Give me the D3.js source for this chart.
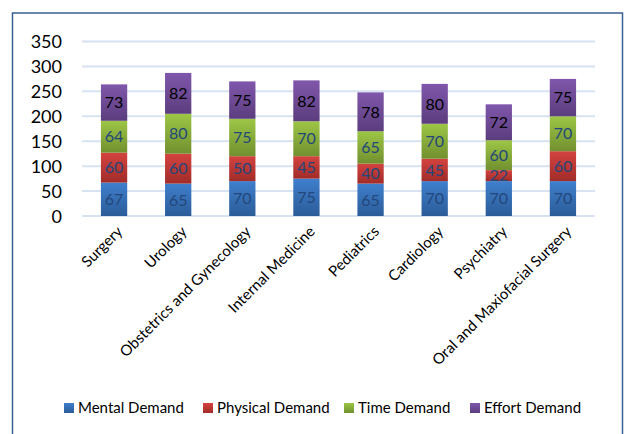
<html>
<head>
<meta charset="utf-8">
<title>demand chart</title>
<script src="https://cdn.jsdelivr.net/npm/d3@7"></script>
<style>
body { margin: 0; background: white; }
text { font-family: Lato, "Open Sans", sans-serif; }
</style>
</head>
<body>
<svg id="chart"></svg>
<script>
var categories = ["Surgery", "Urology", "Obstetrics and Gynecology", "Internal Medicine",
  "Pediatrics", "Cardiology", "Psychiatry", "Oral and Maxiofacial Surgery"];
var series_names = ["Mental Demand", "Physical Demand", "Time Demand", "Effort Demand"];
var mental = [67, 65, 70, 75, 65, 70, 70, 70];
var physical = [60, 60, 50, 45, 40, 45, 22, 60];
var time_d = [64, 80, 75, 70, 65, 70, 60, 70];
var effort = [73, 82, 75, 82, 78, 80, 72, 75];
var y_ticks = [0, 50, 100, 150, 200, 250, 300, 350];

var width = 624, height = 434;
var margin = {left: 82, right: 29, top: 41.5, bottom: 218};

// colours: [top of gradient, bottom of gradient, label colour]
var colours = [
  ["#3f7fcd", "#2b5c98", "#23477a"],
  ["#d3433f", "#a12c29", "#23477a"],
  ["#9dc646", "#71902f", "#23477a"],
  ["#8057ab", "#5b3d7e", "#000000"]
];

var svg = d3.select("#chart").attr("width", width).attr("height", height);

var defs = svg.append("defs");
colours.forEach(function(c, i) {
  var g = defs.append("linearGradient").attr("id", "grad" + i)
    .attr("x1", 0).attr("y1", 0).attr("x2", 0).attr("y2", 1);
  g.append("stop").attr("offset", "0%").attr("stop-color", c[0]);
  g.append("stop").attr("offset", "100%").attr("stop-color", c[1]);
});

// chart border
svg.append("rect").attr("x", 12.5).attr("y", 13).attr("width", 610).attr("height", 430)
  .attr("fill", "white").attr("stroke", "#3a5f93").attr("stroke-width", 1.5);

var rows = categories.map(function(c, i) {
  return {cat: c, "Mental Demand": mental[i], "Physical Demand": physical[i],
    "Time Demand": time_d[i], "Effort Demand": effort[i]};
});
var stacked = d3.stack().keys(series_names)(rows);

var x = d3.scaleBand().domain(categories)
  .range([margin.left, width - margin.right]).paddingInner(0.59).paddingOuter(0.295);
var y = d3.scaleLinear().domain([0, 350]).range([height - margin.bottom, margin.top]);

// gridlines
svg.append("g").selectAll("line").data(y_ticks).enter()
  .append("line")
  .attr("x1", margin.left).attr("x2", width - margin.right)
  .attr("y1", function(d) { return y(d); }).attr("y2", function(d) { return y(d); })
  .attr("stroke", "#d7e2f2").attr("stroke-width", 2);

// y axis labels
var yAxis = svg.append("g").attr("transform", "translate(" + (margin.left - 20) + ",0)")
  .call(d3.axisLeft(y).tickValues(y_ticks).tickSize(0).tickPadding(0));
yAxis.select(".domain").remove();
yAxis.selectAll("text").attr("font-size", 18).attr("fill", "#000")
  .style("font-family", "Lato, sans-serif").attr("dy", "0.36em");

// bars
var layers = svg.append("g").selectAll("g").data(stacked).enter()
  .append("g").attr("fill", function(d, i) { return "url(#grad" + i + ")"; });

layers.selectAll("rect").data(function(d) { return d; }).enter()
  .append("rect")
  .attr("x", function(d) { return x(d.data.cat); })
  .attr("width", x.bandwidth())
  .attr("y", function(d) { return y(d[1]); })
  .attr("height", function(d) { return y(d[0]) - y(d[1]); });

// value labels
stacked.forEach(function(s, i) {
  svg.append("g").selectAll("text").data(s).enter()
    .append("text")
    .attr("x", function(d) { return x(d.data.cat) + x.bandwidth() / 2; })
    .attr("y", function(d) { return (y(d[0]) + y(d[1])) / 2; })
    .attr("dy", "0.36em")
    .attr("text-anchor", "middle")
    .attr("font-size", 16)
    .attr("fill", colours[i][2])
    .text(function(d) { return d[1] - d[0]; });
});

// x axis labels
var xAxis = svg.append("g").attr("transform", "translate(0," + (y(0) + 9) + ")")
  .call(d3.axisBottom(x).tickSize(0).tickPadding(0));
xAxis.select(".domain").remove();
xAxis.selectAll("text")
  .attr("font-size", 15).attr("fill", "#000")
  .style("font-family", "Lato, sans-serif")
  .attr("text-anchor", "end")
  .attr("dy", "0.7em")
  .attr("transform", "translate(2,0) rotate(-45)");

// legend
var legend_x = [64, 203, 344, 470];
var legend = svg.append("g").selectAll("g").data(series_names).enter()
  .append("g").attr("transform", function(d, i) { return "translate(" + legend_x[i] + ",408)"; });
legend.append("rect").attr("x", 0).attr("y", -5).attr("width", 10).attr("height", 10)
  .attr("fill", function(d, i) { return "url(#grad" + i + ")"; });
legend.append("text").attr("x", 14).attr("dy", "0.36em").attr("font-size", 15)
  .attr("fill", "#000").text(function(d) { return d; });
</script>
</body>
</html>
